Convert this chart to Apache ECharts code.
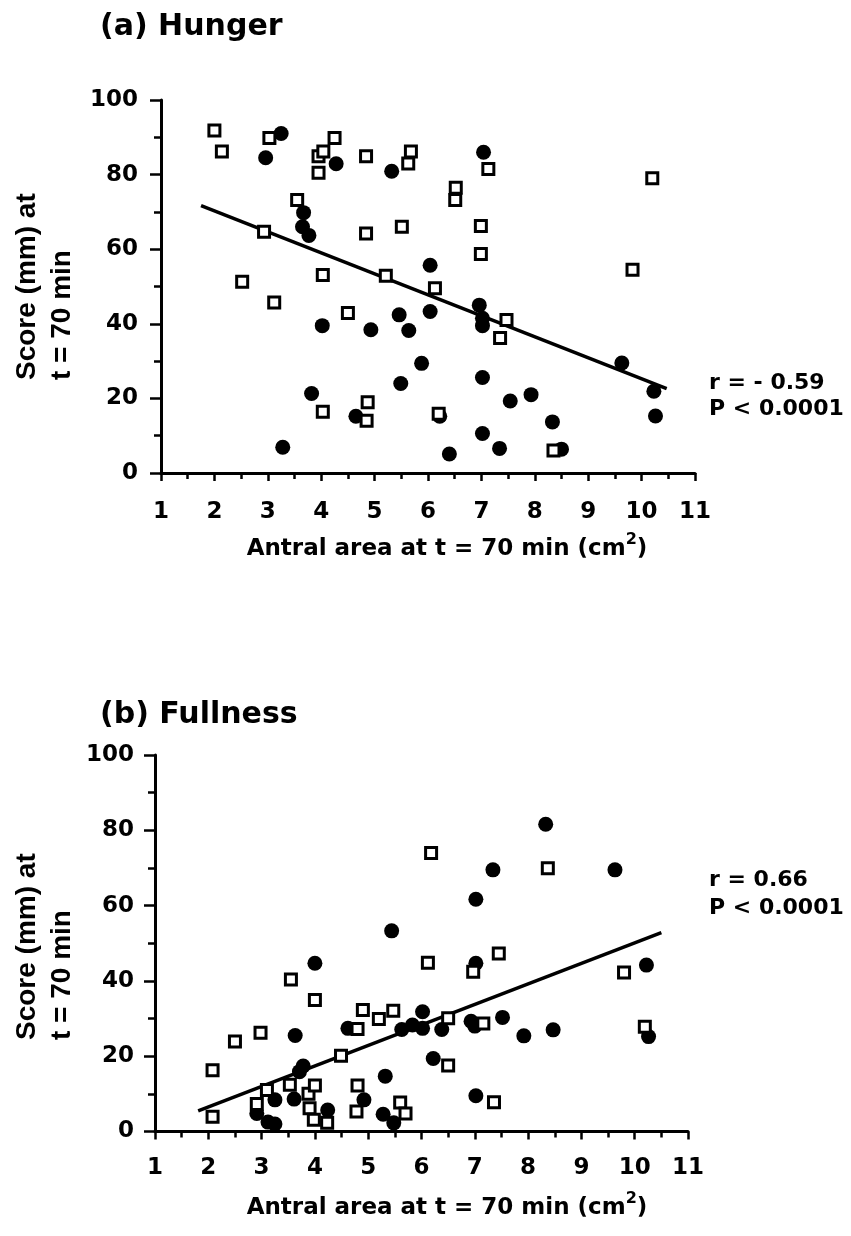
<!DOCTYPE html>
<html><head><meta charset="utf-8">
<script src="https://cdn.jsdelivr.net/npm/echarts@6/dist/echarts.min.js"></script>
<style>html,body{margin:0;padding:0;background:#fff}#c{width:851px;height:1236px}</style>
</head><body><div id="c"></div>
<script>
// ---- data ----
const hungerOpen = [
  [2.0,91.8],[2.14,86.2],[3.03,89.8],[3.95,84.9],[4.04,86.2],[4.25,89.8],[3.95,80.5],[4.84,84.9],
  [5.68,86.2],[5.63,83],[3.55,73.2],[2.93,64.7],[4.84,64.2],[5.51,66],[2.52,51.3],[4.03,53.1],
  [5.21,52.9],[3.12,45.7],[4.5,42.9],[4.03,16.4],[4.87,19],[4.85,14],[7.13,81.5],[6.52,76.5],
  [6.51,73.2],[6.99,66.2],[6.99,58.7],[6.13,49.5],[10.2,79],[9.83,54.5],[7.47,41],[7.35,36.2],
  [6.2,15.9],[8.35,6]
];
const hungerFilled = [
  [3.25,91],[2.96,84.5],[4.28,82.9],[5.32,80.9],[3.67,69.8],[3.65,66],[3.77,63.7],[4.02,39.5],
  [4.93,38.4],[5.46,42.4],[5.64,38.2],[5.88,29.4],[5.49,24],[3.82,21.3],[4.65,15.2],[3.28,6.9],
  [7.04,86],[6.04,55.7],[6.04,43.3],[6.96,45],[7.02,41.5],[7.02,39.5],[7.02,25.6],[7.54,19.3],
  [7.93,21],[6.22,15.2],[8.33,13.7],[7.02,10.6],[6.4,5.1],[7.34,6.6],[8.5,6.4],[9.63,29.5],
  [10.23,21.9],[10.26,15.3]
];
const hungerFit = [[1.75,71.7],[10.47,22.6]];
const fullnessOpen = [
  [6.18,74],[8.37,69.9],[6.12,44.8],[6.97,42.4],[7.45,47.3],[9.8,42.2],[6.5,30.1],[7.16,28.7],
  [10.19,27.8],[6.5,17.5],[7.36,7.8],[5.6,7.7],[5.7,4.8],[3.55,40.4],[4.0,34.9],[4.9,32.3],
  [5.2,29.9],[5.47,32.1],[4.8,27.2],[2.98,26.2],[2.5,23.9],[2.08,16.3],[4.49,20.1],[3.1,11],
  [2.91,7.3],[2.08,3.9],[3.53,12.4],[3.88,10],[4.0,12.2],[3.9,6.2],[3.98,3.1],[4.23,2.3],
  [4.8,12.2],[4.78,5.3]
];
const fullnessFilled = [
  [5.44,53.3],[8.33,81.6],[7.34,69.5],[9.63,69.5],[7.02,61.7],[7.02,44.7],[10.22,44.2],[6.02,31.8],
  [5.63,27.1],[6.02,27.4],[6.38,27.1],[6.93,29.3],[7.0,28],[7.52,30.3],[7.92,25.4],[8.47,27],
  [10.26,25.2],[6.22,19.4],[7.02,9.5],[4.0,44.7],[4.62,27.4],[3.63,25.5],[5.83,28.3],[3.78,17.4],
  [3.71,15.9],[5.32,14.7],[3.25,8.4],[2.91,4.8],[3.12,2.5],[3.25,2.0],[3.61,8.6],[4.24,5.7],
  [4.92,8.4],[5.28,4.6],[5.48,2.3]
];
const fullnessFit = [[1.81,5.5],[10.5,52.8]];
const titles = ['(a) Hunger', '(b) Fullness'];
const statsA = ['r = - 0.59', 'P < 0.0001'];
const statsB = ['r = 0.66', 'P < 0.0001'];
const yNameLines = ['Score (mm) at', 't = 70 min'];
const xNameMain = 'Antral area at t = 70 min (cm';
const xNameSup = '2';

// ---- chart ----
const F = 'DejaVu Sans';
const chart = echarts.init(document.getElementById('c'), null, {renderer: 'canvas'});
function xAx(gi, margin) {
  return {
    type: 'value', gridIndex: gi, min: 1, max: 11, interval: 1,
    axisLine: {show: true, onZero: false, lineStyle: {color: '#000', width: 3}},
    axisTick: {show: true, inside: false, length: 8, lineStyle: {color: '#000', width: 2.5}},
    minorTick: {show: true, splitNumber: 2, length: 6, lineStyle: {color: '#000', width: 2.5}},
    splitLine: {show: false}, minorSplitLine: {show: false},
    axisLabel: {margin: margin, color: '#000', fontFamily: F, fontWeight: 'bold', fontSize: 23}
  };
}
function yAx(gi, margin) {
  return {
    type: 'value', gridIndex: gi, min: 0, max: 100, interval: 20,
    axisLine: {show: true, onZero: false, lineStyle: {color: '#000', width: 3}},
    axisTick: {show: true, inside: false, length: 11, lineStyle: {color: '#000', width: 2.5}},
    minorTick: {show: true, splitNumber: 2, length: 7, lineStyle: {color: '#000', width: 2.5}},
    splitLine: {show: false}, minorSplitLine: {show: false},
    axisLabel: {margin: margin, color: '#000', fontFamily: F, fontWeight: 'bold', fontSize: 23}
  };
}
function openS(data, gi) {
  return {type: 'scatter', xAxisIndex: gi, yAxisIndex: gi, data: data, symbol: 'rect', symbolSize: 11,
    itemStyle: {color: '#fff', borderColor: '#000', borderWidth: 3, opacity: 1}, z: 4, silent: true};
}
function filledS(data, gi) {
  return {type: 'scatter', xAxisIndex: gi, yAxisIndex: gi, data: data, symbol: 'circle', symbolSize: 15,
    itemStyle: {color: '#000', opacity: 1}, z: 3, silent: true};
}
function fitS(data, gi) {
  return {type: 'line', xAxisIndex: gi, yAxisIndex: gi, data: data, showSymbol: false, symbol: 'none',
    lineStyle: {color: '#000', width: 3.5, opacity: 1}, z: 2, silent: true};
}
function txt(x, y, s, size, family, extra) {
  return Object.assign({type: 'text', x: x, y: y, silent: true,
    style: {text: s, fill: '#000', font: 'bold ' + size + 'px "' + family + '"', textAlign: 'left', textVerticalAlign: 'middle'}}, extra || {});
}
function xName(cx, cy) {
  return {type: 'text', x: cx, y: cy, silent: true, style: {
    text: '{a|' + xNameMain + '}{s|' + xNameSup + '}{a|)}',
    textAlign: 'center', textVerticalAlign: 'middle',
    rich: {
      a: {fontFamily: F, fontWeight: 'bold', fontSize: 23, lineHeight: 34, fill: '#000', color: '#000'},
      s: {fontFamily: F, fontWeight: 'bold', fontSize: 16, lineHeight: 16, verticalAlign: 'top', fill: '#000', color: '#000'}
    }
  }};
}
function yName(x1, x2, yb) {
  return [
    {type: 'text', x: x1, y: yb, rotation: Math.PI / 2, silent: true,
      style: {text: yNameLines[0], fill: '#000', font: 'bold 28px "Liberation Sans"', textAlign: 'left', textVerticalAlign: 'middle'}},
    {type: 'text', x: x2, y: yb, rotation: Math.PI / 2, silent: true,
      style: {text: yNameLines[1], fill: '#000', font: 'bold 28px "Liberation Sans"', textAlign: 'left', textVerticalAlign: 'middle'}}
  ];
}
chart.setOption({
  backgroundColor: '#fff',
  animation: false,
  grid: [
    {left: 161, top: 100, width: 534, height: 373},
    {left: 155, top: 755, width: 533, height: 376.5}
  ],
  xAxis: [xAx(0, 28), xAx(1, 25)],
  yAxis: [yAx(0, 23), yAx(1, 21)],
  series: [
    fitS(hungerFit, 0), filledS(hungerFilled, 0), openS(hungerOpen, 0),
    fitS(fullnessFit, 1), filledS(fullnessFilled, 1), openS(fullnessOpen, 1)
  ],
  graphic: [
    txt(100, 27, titles[0], 30, F),
    txt(100, 715, titles[1], 30, F),
    txt(709, 383, statsA[0], 22, F),
    txt(709, 409, statsA[1], 22, F),
    txt(709, 880, statsB[0], 22, F),
    txt(709, 908, statsB[1], 22, F),
    xName(447, 549),
    xName(447, 1208)
  ].concat(yName(27, 62, 380)).concat(yName(27, 62, 1040))
});
</script></body></html>
